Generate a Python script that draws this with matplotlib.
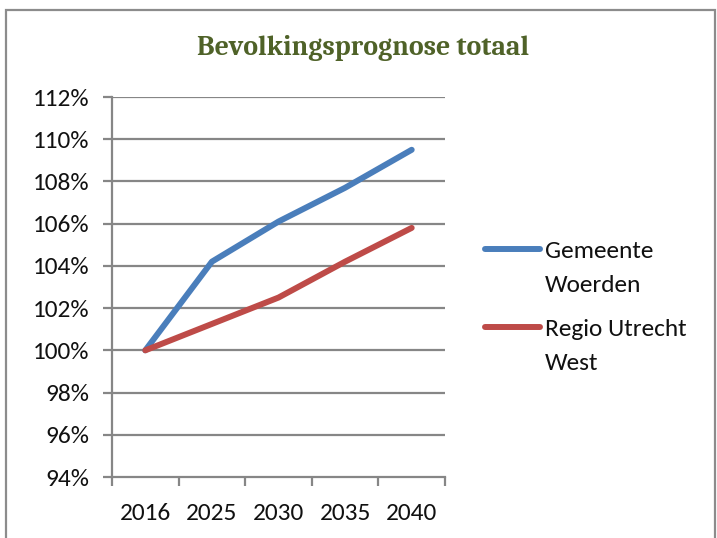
import matplotlib
matplotlib.use("Agg")
import matplotlib.pyplot as plt
from matplotlib.lines import Line2D
from matplotlib.patches import Rectangle

years = ["2016", "2025", "2030", "2035", "2040"]
woerden = [100.0, 104.2, 106.1, 107.7, 109.5]
utrecht_west = [100.0, 101.25, 102.5, 104.2, 105.8]
series_names = ["Gemeente\nWoerden", "Regio Utrecht\nWest"]
series_colors = ["#4A7EBB", "#BE4B48"]
y_ticks = [94, 96, 98, 100, 102, 104, 106, 108, 110, 112]

W, H = 717, 538
label_font = ["Carlito", "DejaVu Sans"]
title_font = ["Caladea", "DejaVu Serif"]
label_size = 18.3

fig = plt.figure(figsize=(W / 100, H / 100), dpi=100)
ax = fig.add_axes([112 / W, 1 - 477 / H, (445 - 112) / W, (477 - 97) / H])

grid_color = "#868686"
x = list(range(len(years)))
for values, color in zip([woerden, utrecht_west], series_colors):
    ax.plot(x, values, color=color, lw=4.3, solid_capstyle="round", zorder=3)

ax.set_xlim(-0.5, len(years) - 0.5)
ax.set_ylim(y_ticks[0], y_ticks[-1])
ax.set_yticks(y_ticks)
ax.set_yticklabels([f"{v}%" for v in y_ticks], fontfamily=label_font,
                   fontsize=label_size, color="#111111")
for v in y_ticks[1:]:
    ax.axhline(v, color=grid_color, lw=1.6, zorder=1)

# category ticks sit on the boundaries between categories
ax.set_xticks([i - 0.5 for i in range(len(years) + 1)])
ax.set_xticklabels([])
ax.set_xticks(x, minor=True)
ax.set_xticklabels(years, minor=True, fontfamily=label_font, fontsize=label_size,
                   color="#111111")
ax.tick_params(axis="x", which="minor", length=0, pad=18.5)
ax.tick_params(axis="x", which="major", length=6.5, width=1.6, color=grid_color)
ax.tick_params(axis="y", length=6.5, width=1.6, color=grid_color, pad=10)

for side in ("top", "right"):
    ax.spines[side].set_visible(False)
for side in ("left", "bottom"):
    ax.spines[side].set_color(grid_color)
    ax.spines[side].set_linewidth(1.6)

fig.text(363 / W, 1 - 48 / H, "Bevolkingsprognose totaal", ha="center", va="center",
         fontfamily=title_font, fontweight="bold", fontsize=20, color="#4F6228")

# legend: handle aligned with the first line of each two-line label
entry_y = [249, 327]
for name, color, yy in zip(series_names, series_colors, entry_y):
    fig.add_artist(Line2D([485 / W, 540 / W], [1 - yy / H, 1 - yy / H],
                          transform=fig.transFigure, color=color, lw=4.3,
                          solid_capstyle="round"))
    for k, line in enumerate(name.split("\n")):
        fig.text(545 / W, 1 - (yy + 34 * k) / H, line, ha="left", va="center_baseline",
                 fontfamily=label_font, fontsize=label_size, color="#111111")

fig.patches.append(Rectangle((6 / W, -0.01), (715 - 6) / W, 1 - 10 / H + 0.01,
                             transform=fig.transFigure, fill=False,
                             edgecolor="#8c8c8c", lw=1.6))

fig.savefig("out.png", dpi=100)
